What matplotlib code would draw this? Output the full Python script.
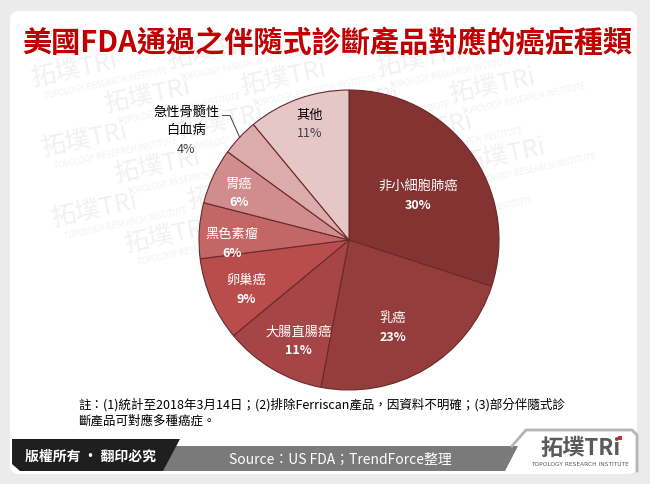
import matplotlib.pyplot as plt
from matplotlib.patches import FancyBboxPatch, Polygon
import numpy as np

plt.rcParams['font.family'] = ['Noto Sans CJK TC', 'DejaVu Sans']

# data
categories = ['非小細胞肺癌', '乳癌', '大腸直腸癌', '卵巢癌', '黑色素瘤', '胃癌', '急性骨髓性\n白血病', '其他']
shares = [30, 23, 11, 9, 6, 6, 4, 11]
colors = ['#843333', '#953c3c', '#a64545', '#b94d4c', '#c36666', '#d18d8d', '#dcacac', '#e6c7c7']
label_dist = [0.55, 0.65, 0.75, 0.76, 0.78, 0.80, 1.31, 0.82]
label_angle_shift = [-3, -4, 4, 2, 5, 2, 9, -1]
text_colors = ['white'] * 6 + ['black', 'black']
pct_colors = ['white'] * 6 + ['#404040', '#404040']

title = '美國FDA通過之伴隨式診斷產品對應的癌症種類'
note = ['註：(1)統計至2018年3月14日；(2)排除Ferriscan產品，因資料不明確；(3)部分伴隨式診',
        '斷產品可對應多種癌症。']
source = 'Source：US FDA；TrendForce整理'
copyright_txt = '版權所有 · 翻印必究'

W, H = 650, 485
fig = plt.figure(figsize=(6.5, 4.85), dpi=100, facecolor='#ebebeb')

# background layer in pixel coordinates
bg = fig.add_axes([0, 0, 1, 1])
bg.set_xlim(0, W)
bg.set_ylim(H, 0)
bg.axis('off')

panel = FancyBboxPatch((10, 12), 627, 463, boxstyle='round,pad=0,rounding_size=9',
                       facecolor='white', edgecolor='none')
bg.add_patch(panel)

# faint watermark lattice, kept inside the panel
u = np.array([136, -18])
w = np.array([63, -44])
for i in range(-4, 8):
    for j in range(-6, 14):
        x, y = np.array([-40, 60]) + i * u + j * w
        if 14 < x < 500 and 50 < y < 425:
            bg.text(x, y, '拓墣TRi', fontsize=18, color='#f1f1f1',
                    rotation=12, ha='left', va='baseline', rotation_mode='anchor')
            bg.text(x + 12, y + 13, 'TOPOLOGY RESEARCH INSTITUTE', fontsize=5.5,
                    color='#f1f1f1', rotation=12, ha='left', va='baseline',
                    rotation_mode='anchor', family='DejaVu Sans')

bg.text(327, 43, title, fontsize=21, fontweight='bold', color='#c00000',
        ha='center', va='center')

for k, line in enumerate(note):
    bg.text(78, 405 + k * 16.5, line, fontsize=9, color='black', ha='left', va='center')

# bottom strip
bg.add_patch(Polygon([(150, 447), (518, 447), (505, 472), (150, 472)],
                     closed=True, facecolor='#7a7a7a', edgecolor='none'))
bg.add_patch(Polygon([(12, 440), (180, 440), (163, 472), (20, 472), (12, 465)],
                     closed=True, facecolor='#1f1f1f', edgecolor='none'))
bg.plot([512, 526, 632, 637, 637], [447, 431, 431, 436, 472], color='#b5b5b5', lw=2,
        solid_joinstyle='round')
bg.text(25, 457, copyright_txt, fontsize=10, color='white', ha='left', va='center',
        fontweight='bold')
bg.text(340, 460, source, fontsize=10, color='white', ha='center', va='center')
bg.text(580, 448, '拓墣TRi', fontsize=16, fontweight='bold', color='#5a5a5a',
        ha='center', va='center')
bg.add_patch(Polygon([(618, 437), (622, 437), (622, 441), (618, 441)], closed=True,
                     facecolor='#e0262c', edgecolor='none'))
bg.text(580, 465, 'TOPOLOGY RESEARCH INSTITUTE', fontsize=4.2, color='#5a5a5a',
        ha='center', va='center', family='DejaVu Sans')

# pie chart
cx, cy, R = 349, 241, 150
ax = fig.add_axes([(cx - R) / W, 1 - (cy + R) / H, 2 * R / W, 2 * R / H])
wedges, _ = ax.pie(shares, colors=colors, startangle=90, counterclock=False,
                   wedgeprops=dict(edgecolor='#6b2929', linewidth=0.8))
ax.set_xlim(-1, 1)
ax.set_ylim(-1, 1)

lh = 18.5 / R
for wdg, name, val, d, sh, tc, pc in zip(wedges, categories, shares, label_dist,
                                         label_angle_shift, text_colors, pct_colors):
    mid = np.deg2rad((wdg.theta1 + wdg.theta2) / 2 + sh)
    lx, ly = d * np.cos(mid), d * np.sin(mid)
    lines = name.split('\n')
    n = len(lines) + 1
    for k, line in enumerate(lines):
        ax.text(lx, ly + ((n - 1) / 2 - k) * lh, line, fontsize=9.5, color=tc,
                ha='center', va='center')
    ax.text(lx, ly - (n - 1) / 2 * lh, f'{val}%', fontsize=9, color=pc,
            ha='center', va='center', fontweight='semibold' if tc == 'white' else 'normal')
    if d > 1:
        ang = np.deg2rad((wdg.theta1 + wdg.theta2) / 2)
        ex, ey = np.cos(ang), np.sin(ang)
        top = ly + (n - 1) / 2 * lh
        ax.plot([lx + 0.24, lx + 0.29, ex], [top - 0.03, top - 0.03, ey],
                color='#404040', lw=0.7, clip_on=False)

fig.savefig('out.png', dpi=100, facecolor=fig.get_facecolor())
